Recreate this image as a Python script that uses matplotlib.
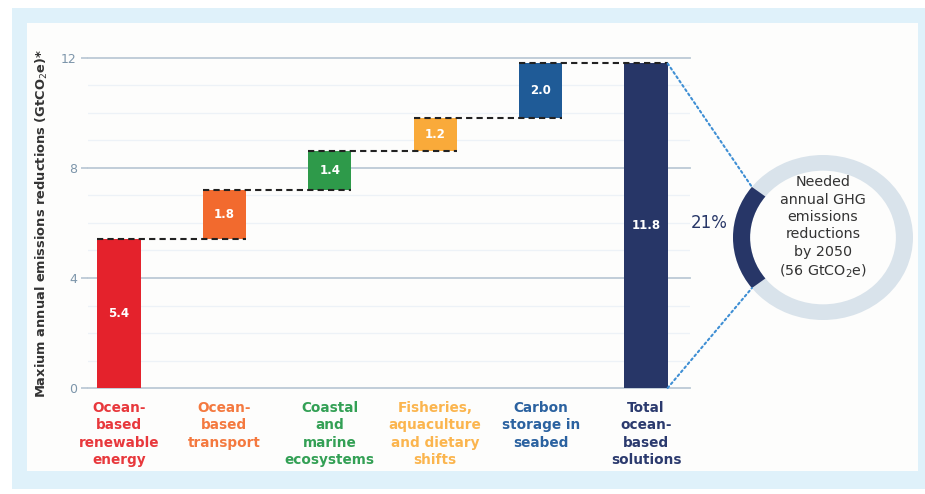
import numpy as np
import matplotlib.pyplot as plt
from matplotlib.patches import Rectangle, Wedge, ConnectionPatch

# data
categories = ["Ocean-\nbased\nrenewable\nenergy", "Ocean-\nbased\ntransport",
              "Coastal\nand\nmarine\necosystems", "Fisheries,\naquaculture\nand dietary\nshifts",
              "Carbon\nstorage in\nseabed", "Total\nocean-\nbased\nsolutions"]
values = [5.4, 1.8, 1.4, 1.2, 2.0]
total = 11.8
value_labels = ["5.4", "1.8", "1.4", "1.2", "2.0", "11.8"]
colors = ["#e4222c", "#f26a2e", "#2e9a4a", "#f9aa3a", "#1f5b97", "#273667"]
label_colors = ["#e8383c", "#f4793f", "#33a055", "#fbb54e", "#2b62a0", "#2b3a6e"]
yticks = [0, 4, 8, 12]
share_pct = 21
needed_text = "Needed\nannual GHG\nemissions\nreductions\nby 2050\n(56 GtCO$_2$e)"

W, H = 925, 494
fig = plt.figure(figsize=(W / 100, H / 100), dpi=100)
fig.patch.set_facecolor("white")

def fbox(x0, y0, x1, y1):
    # pixel box (top-left origin) -> figure fraction rect
    return [x0 / W, 1 - y1 / H, (x1 - x0) / W, (y1 - y0) / H]

# light blue frame and white panel
r = fbox(12, 8, 925, 489)
fig.add_artist(Rectangle((r[0], r[1]), r[2], r[3], transform=fig.transFigure,
                         facecolor="#dff1fa", edgecolor="none", zorder=0))
r = fbox(27, 23, 918, 471)
fig.add_artist(Rectangle((r[0], r[1]), r[2], r[3], transform=fig.transFigure,
                         facecolor="#fdfdfc", edgecolor="none", zorder=0))

# main axes
ax = fig.add_axes(fbox(88, 52.5, 690, 388))
ax.set_facecolor("none")
ax.set_xlim(-0.294, 5.417)
ax.set_ylim(0, 12.2)

x = np.arange(len(categories))
bw = 0.41
bottoms = np.concatenate([[0], np.cumsum(values)[:-1]])
tops = np.cumsum(values)

for i, v in enumerate(values):
    ax.bar(x[i], v, bw, bottom=bottoms[i], color=colors[i], zorder=3)
    ax.text(x[i], bottoms[i] + v / 2, value_labels[i], color="white", ha="center",
            va="center", fontsize=8.5, fontweight="bold", zorder=5)
ax.bar(x[-1], total, bw, color=colors[-1], zorder=3)
ax.text(x[-1], total / 2, value_labels[-1], color="white", ha="center", va="center",
        fontsize=8.5, fontweight="bold", zorder=5)

# dashed connectors
for i, lv in enumerate(tops):
    ax.plot([x[i] - bw / 2, x[i + 1] + bw / 2], [lv, lv], color="#222222",
            lw=1.5, dashes=(3, 2), zorder=4)

# grid
ax.set_yticks(yticks)
for yv in np.arange(0, 13, 1):
    if yv in yticks:
        ax.axhline(yv, color="#bccad6", lw=1.3, zorder=1, clip_on=False)
    else:
        ax.axhline(yv, color="#edf2f7", lw=0.9, zorder=1)
for s in ax.spines.values():
    s.set_visible(False)
ax.tick_params(axis="y", which="major", length=5, color="#bccad6", width=1.3,
               labelsize=9, labelcolor="#7c95aa", pad=3)
ax.set_ylabel("Maxium annual emissions reductions (GtCO$_2$e)*", fontsize=9.4,
              fontweight="bold", color="#333333")
ax.yaxis.set_label_coords(-0.063, 0.489)

ax.set_xticks(x)
ax.set_xticklabels(categories)
ax.tick_params(axis="x", length=0, pad=9)
for lab, c in zip(ax.get_xticklabels(), label_colors):
    lab.set_color(c)
    lab.set_fontsize(9.8)
    lab.set_fontweight("bold")
    lab.set_linespacing(1.32)

# ring showing share of needed reductions
rax = fig.add_axes(fbox(733, 155, 913, 320))
rax.set_xlim(-1, 1)
rax.set_ylim(-1, 1)
rax.axis("off")
half = share_pct / 100 * 360 / 2
rax.add_patch(Wedge((0, 0), 1, 0, 360, width=0.19, facecolor="#d9e3eb", edgecolor="none"))
rax.add_patch(Wedge((0, 0), 1, 180 - half, 180 + half, width=0.19,
                    facecolor="#273667", edgecolor="none"))
rax.text(0, 0.12, needed_text, ha="center", va="center", fontsize=10.3,
         color="#333333", linespacing=1.3)
rax.text(-1.26, 0.18, f"{share_pct}%", ha="center", va="center", fontsize=12,
         color="#273667")

for ang, yv in [(180 - half, total), (180 + half, 0)]:
    con = ConnectionPatch(xyA=(x[-1] + bw / 2, yv), coordsA=ax.transData,
                          xyB=(np.cos(np.radians(ang)), np.sin(np.radians(ang))),
                          coordsB=rax.transData, color="#3f8fd4", lw=1.5,
                          linestyle=(0, (1, 1.5)), zorder=6)
    fig.add_artist(con)

fig.savefig("out.png", dpi=100, facecolor=fig.get_facecolor())
